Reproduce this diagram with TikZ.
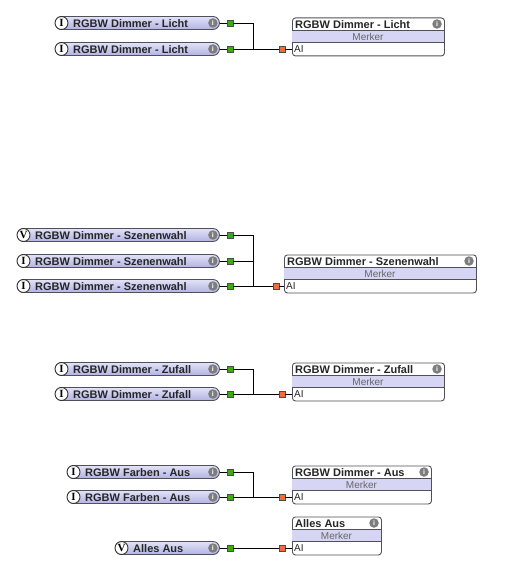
\documentclass[tikz,border=0pt]{standalone}
\usepackage{fontspec}
\setmainfont{Liberation Sans}
\newfontfamily\lettfont{Liberation Serif}
\usetikzlibrary{calc}
\definecolor{pillA}{RGB}{226,226,248}
\definecolor{pillB}{RGB}{178,178,226}
\definecolor{frameC}{RGB}{80,80,90}
\definecolor{merkerC}{RGB}{214,214,244}
\definecolor{greenP}{RGB}{60,170,20}
\definecolor{orangeP}{RGB}{236,110,60}
\definecolor{infoC}{RGB}{125,125,125}
\tikzset{
 pill/.style={draw=frameC, line width=0.9pt, rounded corners=6.5pt, top color=pillA, bottom color=pillB, minimum height=13pt, inner sep=0pt, anchor=west},
 lettercirc/.style={circle, draw=black!80, line width=0.9pt, fill=white, minimum size=13pt, inner sep=0pt, font=\lettfont\fontsize{11}{11}\selectfont\bfseries},
 pilltext/.style={anchor=west, inner sep=0pt, font=\fontsize{11}{13}\selectfont\bfseries, text=black!85},
 infoicon/.style={circle, fill=infoC, minimum size=9.5pt, inner sep=0pt, text=white, font=\fontsize{7}{7}\selectfont\bfseries},
 gport/.style={draw=black!70, fill=greenP, minimum size=6pt, inner sep=0pt, line width=0.6pt},
 oport/.style={draw=black!70, fill=orangeP, minimum size=6pt, inner sep=0pt, line width=0.6pt},
 wire/.style={draw=black, line width=0.9pt},
 boxframe/.style={draw=frameC, line width=0.9pt, rounded corners=3pt, fill=white, inner sep=0pt, anchor=north west, minimum height=38pt},
 titletext/.style={anchor=west, inner sep=0pt, font=\fontsize{11}{13}\selectfont\bfseries, text=black!85},
 merkertext/.style={inner sep=0pt, font=\fontsize{10}{12}\selectfont, text=black!60},
 aitext/.style={anchor=west, inner sep=0pt, font=\fontsize{10}{12}\selectfont, text=black!85},
}
\newcommand{\inpill}[5]{%
 \node[pill, minimum width={219-#2}] (#1) at (#2,#3) {};
 \node[lettercirc] (#1c) at ($(#1.west)+(6.5,0)$) {#4};
 \node[pilltext] (#1t) at ($(#1.west)+(18,0.5)$) {#5};
 \node[infoicon] (#1i) at ($(#1.east)+(-7,0)$) {i};
 \node[gport] (#1p) at (230,#3) {};
 \draw[wire] (#1.east) -- (#1p.west);
}
\newcommand{\outbox}[5]{%
 \node[boxframe, minimum width={#3-#2}] (#1) at (#2,#4) {};
 \fill[merkerC] (#2+0.45,#4+13) rectangle (#3-0.45,#4+25);
 \draw[frameC, line width=0.6pt] (#2,#4+13) -- (#3,#4+13) (#2,#4+25) -- (#3,#4+25);
 \node[titletext] (#1t) at (#2+3,#4+7) {#5};
 \node[infoicon] (#1i) at (#3-7,#4+6.5) {i};
 \node[merkertext] (#1m) at ({(#2+#3)/2},#4+19.5) {Merker};
 \node[aitext] (#1a) at (#2+2,#4+32) {AI};
 \coordinate (#1in) at (#2,#4+31.5);
}
\begin{document}
\begin{tikzpicture}[x=1pt,y=-1pt]
\useasboundingbox (0,0) rectangle (505,585);
\fill[white] (0,0) rectangle (505,585);
% group 1
\inpill{a1}{55}{23}{I}{RGBW Dimmer - Licht}
\inpill{a2}{55}{49}{I}{RGBW Dimmer - Licht}
\outbox{b1}{292}{444}{17.5}{RGBW Dimmer - Licht}
\node[oport] (q1) at (282,49) {};
\coordinate (j1) at (253,49);
\draw[wire] (a1p.east) -| (j1);
\draw[wire] (a2p.east) -- (q1.west);
\draw[wire] (q1.east) -- (b1in);
% group 2
\inpill{a3}{17}{235}{V}{RGBW Dimmer - Szenenwahl}
\inpill{a4}{17}{261}{I}{RGBW Dimmer - Szenenwahl}
\inpill{a5}{17}{286}{I}{RGBW Dimmer - Szenenwahl}
\outbox{b2}{284}{476}{254.5}{RGBW Dimmer - Szenenwahl}
\node[oport] (q2) at (276,286) {};
\coordinate (j2) at (253,286);
\draw[wire] (a3p.east) -| (j2);
\draw[wire] (a4p.east) -| (j2);
\draw[wire] (a5p.east) -- (q2.west);
\draw[wire] (q2.east) -- (b2in);
% group 3
\inpill{a6}{55}{369}{I}{RGBW Dimmer - Zufall}
\inpill{a7}{55}{394}{I}{RGBW Dimmer - Zufall}
\outbox{b3}{292}{444}{362.5}{RGBW Dimmer - Zufall}
\node[oport] (q3) at (282,394) {};
\coordinate (j3) at (253,394);
\draw[wire] (a6p.east) -| (j3);
\draw[wire] (a7p.east) -- (q3.west);
\draw[wire] (q3.east) -- (b3in);
% group 4
\inpill{a8}{67}{472}{I}{RGBW Farben - Aus}
\inpill{a9}{67}{497}{I}{RGBW Farben - Aus}
\outbox{b4}{292}{431}{465.5}{RGBW Dimmer - Aus}
\node[oport] (q4) at (282,497) {};
\coordinate (j4) at (253,497);
\draw[wire] (a8p.east) -| (j4);
\draw[wire] (a9p.east) -- (q4.west);
\draw[wire] (q4.east) -- (b4in);
% group 5
\inpill{a10}{115}{548}{V}{Alles Aus}
\outbox{b5}{292}{381}{516.5}{Alles Aus}
\node[oport] (q5) at (282,548) {};
\draw[wire] (a10p.east) -- (q5.west);
\draw[wire] (q5.east) -- (b5in);
\end{tikzpicture}
\end{document}
